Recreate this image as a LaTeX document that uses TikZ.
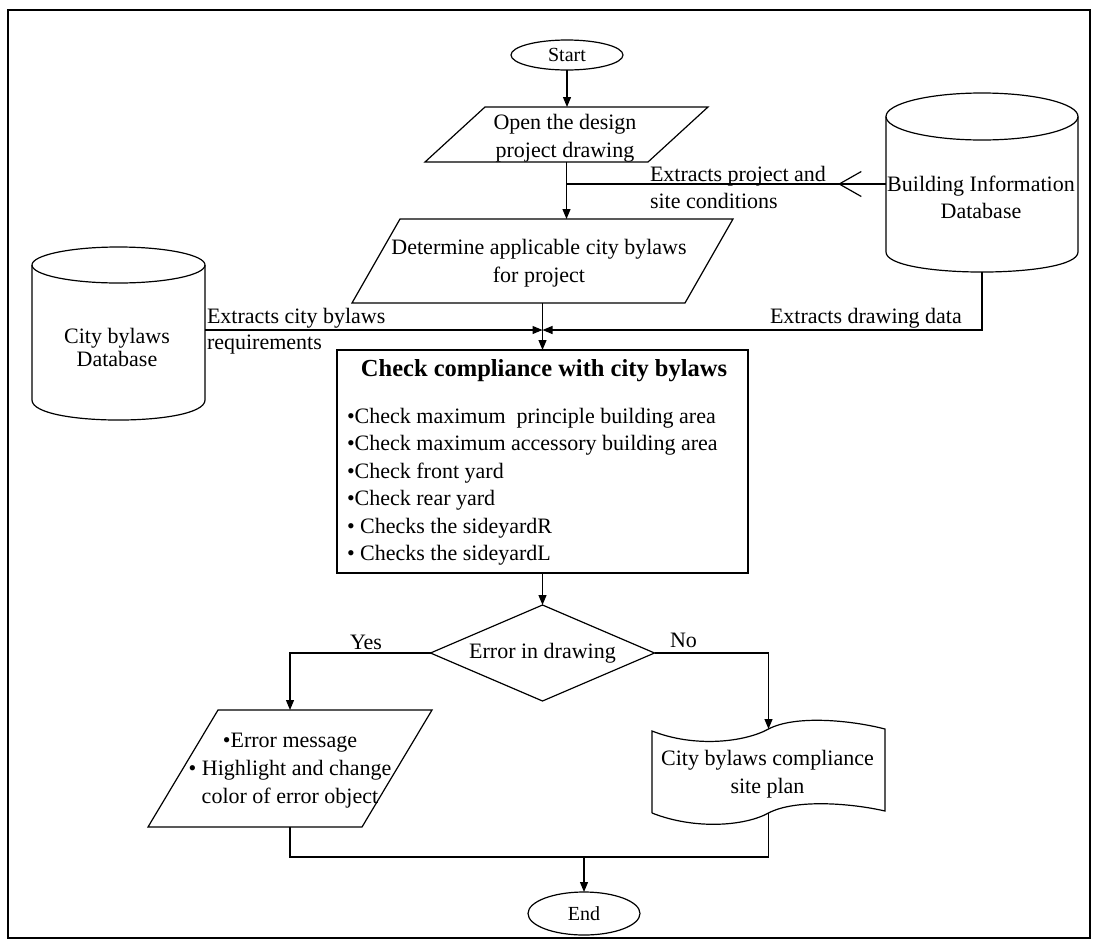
\documentclass[tikz,border=0pt]{standalone}
\usepackage{fontspec}
\setmainfont{Liberation Serif}
\usetikzlibrary{arrows.meta,shapes.geometric,decorations.markings,calc}
\begin{document}
\begin{tikzpicture}[x=1pt,y=-1pt, line width=1.2pt,
  every node/.style={inner sep=0pt, outer sep=0pt},
  txt/.style={font=\fontsize{22}{27.5}\selectfont, align=center},
  lbl/.style={font=\fontsize{22}{27.5}\selectfont, anchor=base west},
  term/.style={ellipse, draw, minimum width=112pt, font=\fontsize{20}{24}\selectfont},
  bbox/.style={draw=none, rectangle},
  arr/.style={-{Triangle[length=10pt,width=8pt]}},
  vbarb/.style={postaction={decorate}, decoration={markings, mark=at position 0.15 with {\arrow{Straight Barb[length=22pt,width=25pt]}}}}
]
\useasboundingbox (0,0) rectangle (1093,940);
\draw[line width=1.5pt] (8,10) rectangle (1090,938);

% Start / End
\node[term, minimum height=30pt] (start) at (567,55) {Start};
\node[term, minimum height=43pt] (end) at (584,913.5) {End};

% Open the design
\node[bbox, minimum width=283pt, minimum height=55pt] (open) at (566.5,134.5) {};
\draw ([xshift=60pt]open.north west) -- (open.north east) -- ([xshift=-60pt]open.south east) -- (open.south west) -- cycle;
\node[txt] (opent) at (565,138.4) {Open the design\\project drawing};

% Determine
\node[bbox, minimum width=381pt, minimum height=84pt] (det) at (542.5,261) {};
\draw ([xshift=48pt]det.north west) -- (det.north east) -- ([xshift=-48pt]det.south east) -- (det.south west) -- cycle;
\node[txt] (dett) at (539,263.4) {Determine applicable city bylaws\\for project};

% Check compliance box
\node[draw, minimum width=411pt, minimum height=223pt] (chk) at (542.5,461.5) {};
\node[font=\fontsize{24.5}{29}\selectfont\bfseries] (chkt) at (544,371) {Check compliance with city bylaws};
\node[txt, align=left, anchor=north west] (chkl) at (347,408) {•Check maximum~ principle building area\\•Check maximum accessory building area\\•Check front yard\\•Check rear yard\\• Checks the sideyardR\\• Checks the sideyardL};

% Decision
\node[diamond, draw, minimum width=224pt, minimum height=96pt, aspect=2.33, font=\fontsize{22}{27.5}\selectfont] (dia) at (542.5,653) {Error in drawing};

% Error output
\node[bbox, minimum width=284pt, minimum height=117pt] (err) at (290,768.5) {};
\draw ([xshift=70pt]err.north west) -- (err.north east) -- ([xshift=-70pt]err.south east) -- (err.south west) -- cycle;
\node[font=\fontsize{22}{28}\selectfont, align=center] (errt) at (290,771) {•Error message\\• Highlight and change\\color of error object};

% Document
\node[bbox, minimum width=233pt, minimum height=84pt] (doc) at (768.5,771) {};
\draw (652,813) -- (652,731) .. controls (695,748) and (745,742) .. (768.5,729)
  .. controls (795,715) and (850,720) .. (885,729) -- (885,811)
  .. controls (850,803) and (795,799) .. (768.5,813)
  .. controls (745,826) and (695,830) .. (652,813);
\node[txt] (doct) at (767.5,774.4) {City bylaws compliance\\site plan};

% City bylaws database cylinder
\node[bbox, minimum width=173pt, minimum height=173pt] (cityb) at (118.5,333.5) {};
\draw (118.5,265) ellipse [x radius=86.5, y radius=18];
\draw (32,265) -- (32,400) .. controls (32,426.7) and (205,426.7) .. (205,400) -- (205,265);
\node[font=\fontsize{22}{23}\selectfont, align=center] (cityt) at (117,347) {City bylaws\\Database};

% Building information database cylinder
\node[bbox, minimum width=192pt, minimum height=179pt] (bid) at (982,182.5) {};
\draw (982,116.5) ellipse [x radius=96, y radius=23.5];
\draw (886,116.5) -- (886,252) .. controls (886,278.7) and (1078,278.7) .. (1078,252) -- (1078,116.5);
\node[txt] (bidt) at (981,197.6) {Building Information\\Database};

% Connectors
\coordinate (jt) at (566.5,184);
\coordinate (jn) at (542.5,330);
\coordinate (mg) at (584,857);
\draw[arr] (start.south) -- (start.south |- open.north);
\draw[arr] (open.south) -- (open.south |- det.north);
\draw[vbarb] (bid.west |- jt) -- (jt);
\draw[arr] (det.south) -- (chk.north);
\draw[arr] (cityb.east |- jn) -- (jn);
\draw[arr] (bid.south) |- (jn);
\draw[arr] (chk.south) -- (dia.north);
\draw[arr] (dia.west) -| (err.north);
\draw[arr] (dia.east) -| (doc.north);
\draw (err.south) |- (mg);
\draw (doc.south) |- (mg);
\draw[arr] (mg) -- (end.north);

% Labels
\node[lbl] (l1a) at (650,181) {Extracts project and};
\node[lbl] (l1b) at (650,208) {site conditions};
\node[lbl] (l2a) at (207,323) {Extracts city bylaws};
\node[lbl] (l2b) at (207,349) {requirements};
\node[lbl] (l3) at (770,323) {Extracts drawing data};
\node[lbl] (lyes) at (350,649) {Yes};
\node[lbl] (lno) at (670,647) {No};
\end{tikzpicture}
\end{document}
